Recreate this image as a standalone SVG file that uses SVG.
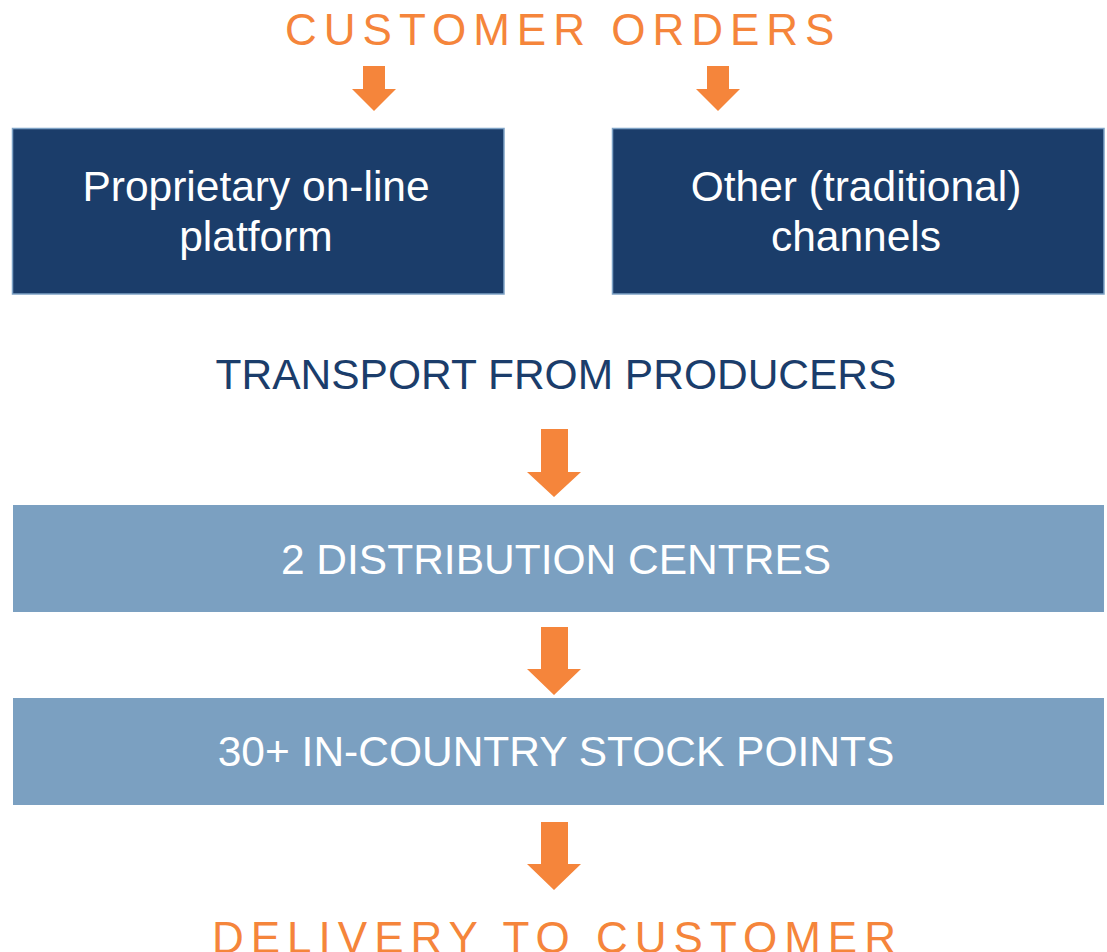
<svg xmlns="http://www.w3.org/2000/svg" width="1107" height="952" viewBox="0 0 1107 952">
  <style>
    .orange-title { font-family: "Liberation Sans", Arial, sans-serif; font-size: 44px; fill: #F5853B; letter-spacing: 7px; }
    .navy-title { font-family: "Liberation Sans", Arial, sans-serif; font-size: 42.5px; fill: #1B3D6B; }
    .box-dark { fill: #1B3D6A; stroke: #7FA3C6; stroke-width: 1.5; }
    .box-light { fill: #7BA0C1; }
    .box-text { font-family: "Liberation Sans", Arial, sans-serif; font-size: 42.5px; fill: #FFFFFF; text-anchor: middle; }
    .arrow { fill: #F5853B; }
  </style>

  <!-- Headings -->
  <g id="customer-orders">
    <text class="orange-title" x="285" y="45">CUSTOMER ORDERS</text>
  </g>
  <g id="transport-from-producers">
    <text class="navy-title" x="556" y="389" text-anchor="middle">TRANSPORT FROM PRODUCERS</text>
  </g>
  <g id="delivery-to-customer">
    <text class="orange-title" x="212" y="953">DELIVERY TO CUSTOMER</text>
  </g>

  <!-- Order channels -->
  <g id="online-platform">
    <rect class="box-dark" x="12.5" y="128.5" width="491.5" height="165.5"/>
    <text class="box-text" x="256" y="201">Proprietary on-line</text>
    <text class="box-text" x="256" y="251">platform</text>
  </g>
  <g id="traditional-channels">
    <rect class="box-dark" x="612.5" y="128.5" width="491.5" height="165.5"/>
    <text class="box-text" x="856" y="201">Other (traditional)</text>
    <text class="box-text" x="856" y="251">channels</text>
  </g>

  <!-- Logistics stages -->
  <g id="distribution-centres">
    <rect class="box-light" x="13" y="505" width="1091" height="107"/>
    <text class="box-text" x="556" y="574">2 DISTRIBUTION CENTRES</text>
  </g>
  <g id="stock-points">
    <rect class="box-light" x="13" y="698" width="1091" height="107"/>
    <text class="box-text" x="556" y="766">30+ IN-COUNTRY STOCK POINTS</text>
  </g>

  <!-- Block arrows -->
  <g id="connectors">
    <polygon class="arrow" points="363,66 385,66 385,89 396,89 374,111 352,89 363,89"/>
    <polygon class="arrow" points="707,66 729,66 729,89 740,89 718,111 696,89 707,89"/>
    <polygon class="arrow" points="541,429 568,429 568,472 581,472 554,497 527,472 541,472"/>
    <polygon class="arrow" points="541,627 568,627 568,669 581,669 554,695 527,669 541,669"/>
    <polygon class="arrow" points="541,822 568,822 568,864 581,864 554,890 527,864 541,864"/>
  </g>
</svg>
